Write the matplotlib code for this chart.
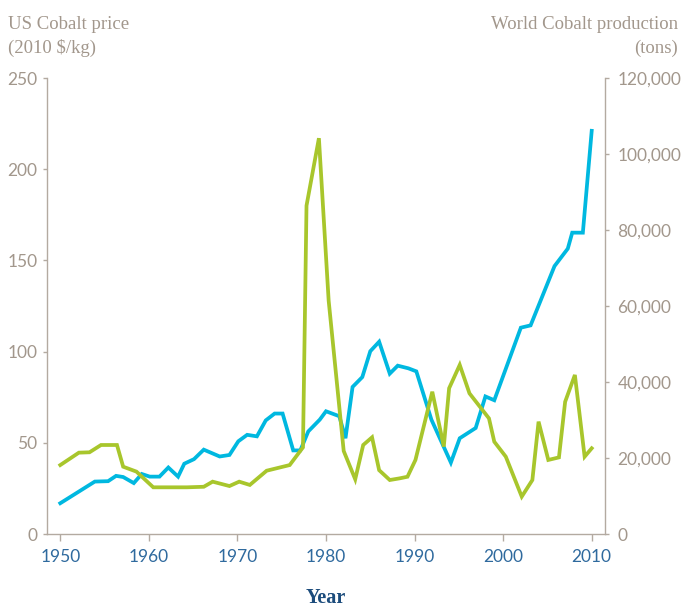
import matplotlib
matplotlib.use("Agg")
import matplotlib.pyplot as plt
from matplotlib.ticker import FuncFormatter

# US cobalt price (2010 $/kg)
price_years = [1950, 1952.1, 1953.3, 1954.6, 1956.4, 1957.1, 1958.6, 1960.5, 1964.3,
               1966.2, 1967.2, 1969.1, 1970.2, 1971.4, 1973.3, 1975.9, 1977.4, 1977.8,
               1979.2, 1980.3, 1982.0, 1983.3, 1984.2, 1985.2, 1986.0, 1987.2, 1988.3,
               1989.2, 1990.1, 1992.0, 1993.3, 1993.9, 1995.1, 1996.2, 1998.4, 1999.0,
               2000.3, 2002.1, 2003.3, 2004.0, 2005.1, 2006.3, 2007.0, 2008.1, 2009.2,
               2010]
price = [37.8, 44.6, 44.8, 48.8, 48.8, 36.9, 34.2, 25.6, 25.6,
         25.9, 28.7, 26.3, 28.7, 26.9, 34.7, 37.8, 47.5, 180,
         217, 128, 45.5, 30, 48.8, 53, 35, 29.6, 30.5,
         31.4, 40.6, 78, 47.9, 79.9, 92.7, 77.1, 63.4, 50.6,
         42.4, 20.5, 29.6, 61.6, 40.6, 42, 72.5, 87.2, 42.4,
         47]

# World cobalt production (tons)
prod_years = [1950, 1953.9, 1955.4, 1956.3, 1957.1, 1958.3, 1959.2, 1960.1, 1961.2,
              1962.2, 1963.3, 1964.0, 1965.1, 1966.2, 1968.0, 1969.1, 1970.1, 1971.1,
              1972.2, 1973.2, 1974.2, 1975.1, 1976.3, 1977.1, 1978.0, 1979.3, 1980.0,
              1981.5, 1982.2, 1983.0, 1984.1, 1985.0, 1986.0, 1987.2, 1988.1, 1989.3,
              1990.2, 1991.9, 1994.1, 1995.1, 1996.9, 1998.0, 1999.0, 2002.0, 2003.1,
              2005.8, 2007.3, 2007.8, 2009.0, 2010]
production = [8100, 13800, 13900, 15300, 15000, 13400, 15800, 15100, 15100,
              17500, 15100, 18500, 19700, 22200, 20400, 20800, 24400, 26100,
              25700, 29900, 31700, 31700, 22000, 22000, 27000, 30100, 32300,
              31000, 25200, 38700, 41300, 48100, 50600, 42200, 44300, 43600,
              42800, 30100, 18800, 25200, 27900, 36200, 35200, 54300, 54900,
              70500, 75100, 79300, 79300, 106100]

price_ticks = [0, 50, 100, 150, 200, 250]
prod_ticks = [0, 20000, 40000, 60000, 80000, 100000, 120000]
year_ticks = [1950, 1960, 1970, 1980, 1990, 2000, 2010]

green = "#a8c62c"
blue = "#00b8e0"
axis_grey = "#b3aaa1"
label_grey = "#a2978c"
year_blue = "#2f6a9e"

fig = plt.figure(figsize=(6.84, 6.08), dpi=100)
ax = fig.add_axes([0.0687, 0.1217, 0.8158, 0.75])
ax2 = ax.twinx()

ax2.plot(prod_years, production, color=blue, lw=2.7, solid_joinstyle="miter")
ax.plot(price_years, price, color=green, lw=2.7, solid_joinstyle="miter")

# price line sits on top of the production line
ax.set_zorder(ax2.get_zorder() + 1)
ax.patch.set_visible(False)

ax.set_xlim(1948.5, 2011.5)
ax.set_ylim(0, 250)
ax2.set_ylim(0, 120000)
ax.set_xticks(year_ticks)
ax.set_yticks(price_ticks)
ax2.set_yticks(prod_ticks)
ax2.yaxis.set_major_formatter(FuncFormatter(lambda v, p: f"{int(v):,}"))

for a in (ax, ax2):
    a.spines["top"].set_visible(False)
    for s in ("left", "right", "bottom"):
        a.spines[s].set_color(axis_grey)
        a.spines[s].set_linewidth(1.0)
ax.spines["right"].set_visible(False)
ax2.spines["left"].set_visible(False)
ax2.spines["bottom"].set_visible(False)

ax.tick_params(axis="y", direction="out", length=3, width=1, color=axis_grey,
               labelcolor=label_grey, labelsize=12.5, pad=4)
ax2.tick_params(axis="y", direction="out", length=3, width=1, color=axis_grey,
                labelcolor=label_grey, labelsize=12.5, pad=6)
ax.tick_params(axis="x", direction="out", length=5, width=1, color=axis_grey,
               labelcolor=year_blue, labelsize=12.5, pad=6)
for lab in ax.get_xticklabels() + ax.get_yticklabels() + ax2.get_yticklabels():
    lab.set_fontfamily("Lato")

ax.set_xlabel("Year", family="Liberation Serif", fontweight="bold", fontsize=14.5,
              color="#1c4c7c", labelpad=16)

title_kw = dict(family="Liberation Serif", fontsize=13.5, color=label_grey)
fig.text(0.012, 0.952, "US Cobalt price", ha="left", va="baseline", **title_kw)
fig.text(0.012, 0.913, "(2010 $/kg)", ha="left", va="baseline", **title_kw)
fig.text(0.991, 0.952, "World Cobalt production", ha="right", va="baseline", **title_kw)
fig.text(0.991, 0.913, "(tons)", ha="right", va="baseline", **title_kw)

fig.savefig("out.png", dpi=100)
